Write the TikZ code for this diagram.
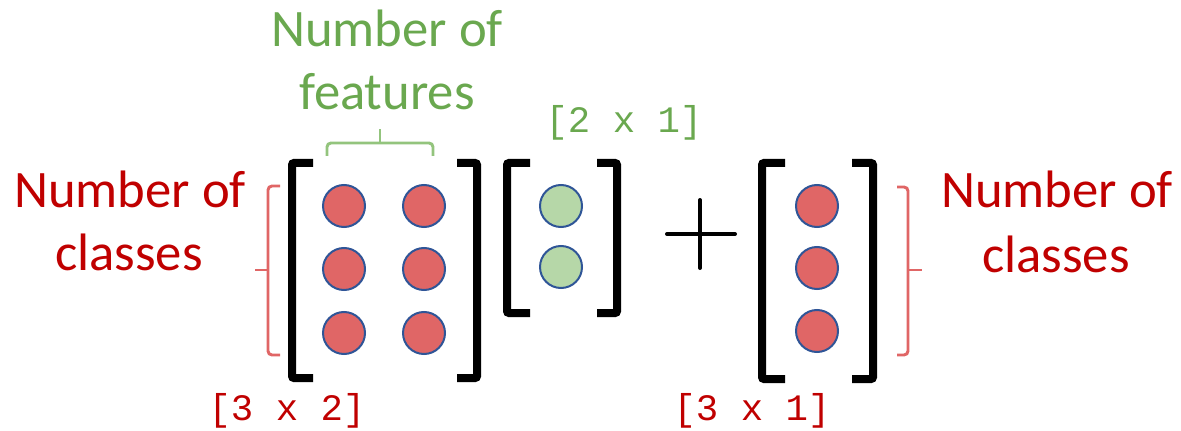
\documentclass[tikz,border=0pt]{standalone}
\usepackage{fontspec}
\setmainfont{Carlito}
\newfontfamily\codefont{Liberation Mono}
\usepackage{xcolor}
\definecolor{DimRed}{HTML}{C00000}
\definecolor{DotRed}{HTML}{E06666}
\definecolor{DimGreen}{HTML}{6AA84F}
\definecolor{BraceGreen}{HTML}{93C47D}
\definecolor{DotGreen}{HTML}{B6D7A8}
\definecolor{DotEdge}{HTML}{2F5597}
\usetikzlibrary{positioning}

\begin{document}
\begin{tikzpicture}[x=0.75pt, y=-0.75pt]
\tikzset{
  classdot/.style={circle, fill=DotRed, draw=DotEdge, line width=1.5pt, minimum size=31.5pt, inner sep=0},
  featdot/.style={classdot, fill=DotGreen},
  bracketline/.style={draw=black, line width=6pt, rounded corners=1.5pt},
  classbrace/.style={draw=DotRed, line width=2.2pt, rounded corners=3pt},
  featbrace/.style={draw=BraceGreen, line width=2.2pt, rounded corners=3pt},
  labeltext/.style={font=\fontsize{39.5}{47}\selectfont, anchor=base, inner sep=0},
  dimtext/.style={font=\codefont\fontsize{28}{32}\selectfont, anchor=base, inner sep=0},
}
  \useasboundingbox (0,0) rectangle (1181,431);

  % Weight matrix [3 x 2]
  \draw[bracketline] (313,163) -- (292,163) -- (292,378) -- (313,378);
  \draw[bracketline] (457,163) -- (477,163) -- (477,378) -- (457,378);
  \node[classdot] (w11) at (344,206) {};
  \node[classdot] (w12) at (424,206) {};
  \node[classdot] (w21) at (344,269) {};
  \node[classdot] (w22) at (424,269) {};
  \node[classdot] (w31) at (344,333) {};
  \node[classdot] (w32) at (424,333) {};

  % Input vector [2 x 1]
  \draw[bracketline] (530,163) -- (507,163) -- (507,313) -- (530,313);
  \draw[bracketline] (597,163) -- (617,163) -- (617,313) -- (597,313);
  \node[featdot] (x1) at (561,206) {};
  \node[featdot] (x2) at (561,267) {};

  % Plus sign
  \draw[line width=3pt, line cap=round] (667,234) -- (735,234);
  \draw[line width=3pt, line cap=round] (700,200) -- (700,268);

  % Bias vector [3 x 1]
  \draw[bracketline] (785,163) -- (762,163) -- (762,379) -- (785,379);
  \draw[bracketline] (852,163) -- (873,163) -- (873,379) -- (852,379);
  \node[classdot] (b1) at (817,206) {};
  \node[classdot] (b2) at (817,268) {};
  \node[classdot] (b3) at (817,331) {};

  % Braces
  \draw[featbrace] (327,156) -- (327,143) -- (433,143) -- (433,156);
  \draw[featbrace] (380,143) -- (380,129);
  \draw[classbrace] (280,186) -- (268,186) -- (268,355) -- (280,355);
  \draw[classbrace] (268,270) -- (255,270);
  \draw[classbrace] (897,187) -- (908,187) -- (908,355) -- (897,355);
  \draw[classbrace] (908,270) -- (922,270);

  % Labels
  \node[labeltext, DimGreen] (featA) at (387,47) {Number of};
  \node[labeltext, DimGreen] (featB) at (387,110) {features};
  \node[labeltext, DimRed] (lclsA) at (130,207) {Number of};
  \node[labeltext, DimRed] (lclsB) at (129,270) {classes};
  \node[labeltext, DimRed] (rclsA) at (1057,208) {Number of};
  \node[labeltext, DimRed] (rclsB) at (1056,272) {classes};

  % Dimensions
  \node[dimtext, DimRed] (dimW) at (287,420) {[3 x 2]};
  \node[dimtext, DimGreen] (dimX) at (624,133) {[2 x 1]};
  \node[dimtext, DimRed] (dimB) at (752,420) {[3 x 1]};
\end{tikzpicture}
\end{document}
